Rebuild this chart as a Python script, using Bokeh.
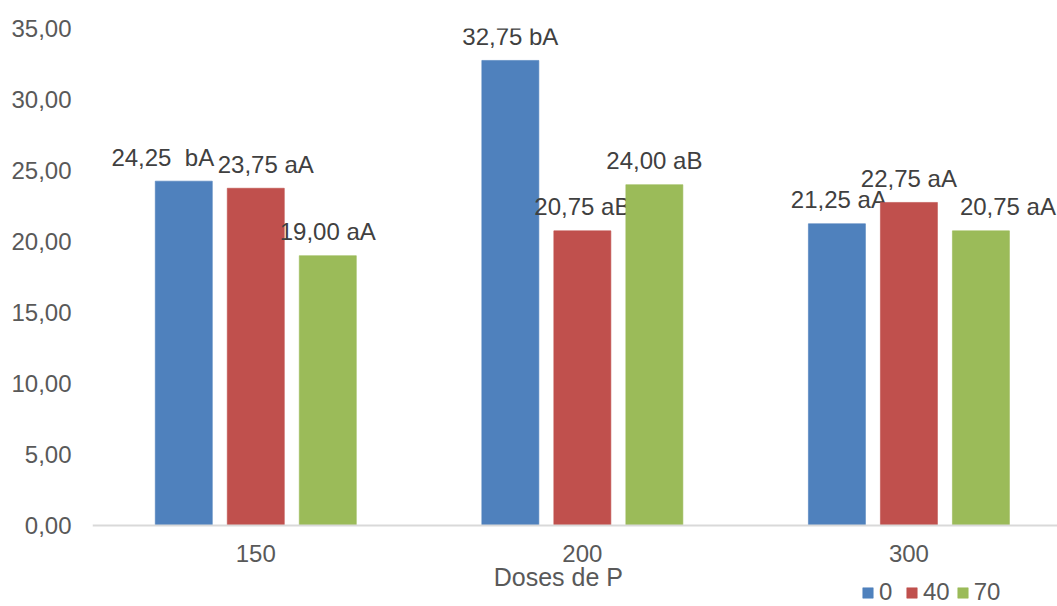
from bokeh.plotting import figure
from bokeh.models import ColumnDataSource, Range1d, FixedTicker, Legend, LegendItem, Label
from bokeh.transform import dodge
from bokeh.core.properties import value
from bokeh.embed import file_html
from bokeh.resources import INLINE

# Data
doses = ["150", "200", "300"]
series_names = ["0", "40", "70"]
vals_0 = [24.25, 32.75, 21.25]
vals_40 = [23.75, 20.75, 22.75]
vals_70 = [19.00, 24.00, 20.75]
labels_0 = ["24,25 \u00a0bA", "32,75 bA", "21,25 aA"]
labels_40 = ["23,75 aA", "20,75 aB", "22,75 aA"]
labels_70 = ["19,00 aA", "24,00 aB", "20,75 aA"]
y_ticks = [0, 5, 10, 15, 20, 25, 30, 35]

# Styling
colors = ["#4F81BD", "#C0504D", "#9BBB59"]
offsets = [-0.2205, 0.0, 0.2205]
label_nudge_px = [[-21, 0, 2], [10, 0, 0], [0, 0, 27]]
FONT = "Liberation Sans"

# The frame runs to the bottom of the canvas; the category axis sits at y = 0
p = figure(width=1057, height=606, output_backend="svg", toolbar_location=None,
           x_range=Range1d(-0.5, 2.455), y_range=Range1d(-5.704, 35),
           min_border_left=92, min_border_right=0, min_border_top=28,
           min_border_bottom=0)
p.outline_line_color = None
p.xgrid.visible = False
p.ygrid.visible = False
p.background_fill_color = "white"
p.border_fill_color = "white"

xs = list(range(len(doses)))
all_vals = [vals_0, vals_40, vals_70]
all_labels = [labels_0, labels_40, labels_70]
items = []
for i, name in enumerate(series_names):
    src = ColumnDataSource(dict(x=xs, top=all_vals[i], lab=all_labels[i],
                                nudge=label_nudge_px[i]))
    r = p.vbar(x=dodge("x", offsets[i], range=p.x_range), top="top", bottom=0,
               width=0.1746, source=src, fill_color=colors[i], line_color=colors[i],
               line_alpha=0.6, line_width=1)
    p.text(x=dodge("x", offsets[i], range=p.x_range), y="top", text="lab", source=src,
           x_offset="nudge", y_offset=-24, text_align="center", text_baseline="middle",
           text_font=value(FONT), text_font_size="24px", text_color="#404040")
    items.append(LegendItem(label=name, renderers=[r]))

# Axes
p.xaxis.fixed_location = 0
p.xaxis.ticker = FixedTicker(ticks=xs)
p.xaxis.major_label_overrides = {i: d for i, d in enumerate(doses)}
p.xaxis.axis_line_color = "#D9D9D9"
p.xaxis.axis_line_width = 2
p.xaxis.major_tick_line_color = None
p.xaxis.minor_tick_line_color = None
p.xaxis.major_tick_out = 0
p.xaxis.major_tick_in = 0
p.xaxis.major_label_standoff = 19
p.xaxis.major_label_text_font = FONT
p.xaxis.major_label_text_font_size = "24px"
p.xaxis.major_label_text_color = "#595959"

p.yaxis.ticker = FixedTicker(ticks=y_ticks)
p.yaxis.major_label_overrides = {t: f"{t:.2f}".replace(".", ",") for t in y_ticks}
p.yaxis.axis_line_color = None
p.yaxis.major_tick_line_color = None
p.yaxis.minor_tick_line_color = None
p.yaxis.major_tick_out = 0
p.yaxis.major_tick_in = 0
p.yaxis.major_label_standoff = 21
p.yaxis.major_label_text_font = FONT
p.yaxis.major_label_text_font_size = "24px"
p.yaxis.major_label_text_color = "#595959"

# Axis title
p.add_layout(Label(x=0.9265, y=-3.66, text="Doses de P", text_align="center",
                   text_baseline="middle", text_font=FONT, text_font_size="25px",
                   text_color="#595959"))

legend = Legend(items=items, orientation="horizontal", location=(769, 0),
                glyph_width=13, glyph_height=13, label_height=24,
                label_standoff=5, spacing=6, padding=0, margin=0,
                label_text_font=FONT, label_text_font_size="24px",
                label_text_color="#595959", border_line_color=None,
                background_fill_alpha=0)
p.add_layout(legend)

open("out.html", "w").write(file_html(p, INLINE))
